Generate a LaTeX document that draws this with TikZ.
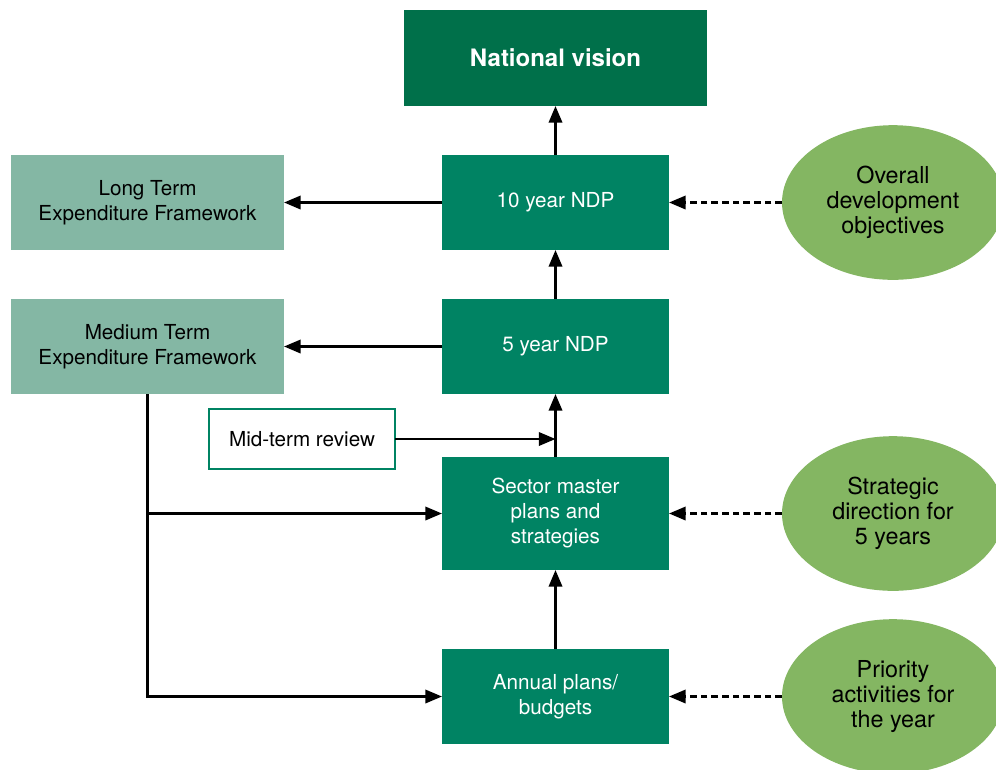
\documentclass[tikz,border=0pt]{standalone}
\usepackage{fontspec}
\setmainfont{TeX Gyre Heros}
\usetikzlibrary{positioning,shapes.geometric,arrows.meta}
\definecolor{visiongreen}{RGB}{0,112,74}
\definecolor{ndpgreen}{RGB}{0,131,99}
\definecolor{sidegreen}{RGB}{132,183,164}
\definecolor{ovalgreen}{RGB}{132,182,98}

\begin{document}
\begin{tikzpicture}[
  x=0.75pt, y=-0.75pt,
  node distance=36.75pt and 118.5pt,
  >={Triangle[length=12.5pt,width=10pt]},
  line width=1.9pt,
  basenode/.style={align=center,inner sep=2pt,outer sep=0pt,font=\fontsize{15.5}{18.75}\selectfont},
  visionnode/.style={basenode,fill=visiongreen,text=white,minimum width=227.25pt,minimum height=72pt,font=\fontsize{18}{21}\selectfont\bfseries},
  ndpnode/.style={basenode,fill=ndpgreen,text=white,minimum width=170.25pt,minimum height=71.25pt},
  sidenode/.style={basenode,fill=sidegreen,text=black,minimum width=204.75pt,minimum height=71.25pt},
  reviewnode/.style={basenode,draw=ndpgreen,line width=1.5pt,fill=white,minimum width=139.5pt,minimum height=45pt},
  ovalnode/.style={ellipse,fill=ovalgreen,text=black,outer sep=0pt,minimum width=166.5pt,minimum height=116pt,align=center,font=\fontsize{17.5}{18.75}\selectfont},
  dotted link/.style={->,dash pattern=on 5pt off 3pt}
]
\clip (0,0) rectangle (996,769);

% main column
\node[visionnode] (vision) at (555.5,58) {National vision};
\node[ndpnode,below=of vision] (ten) {10 year NDP};
\node[ndpnode,below=of ten] (five) {5 year NDP};
\node[ndpnode,minimum height=84.75pt,below=47.25pt of five] (sector) {Sector master\\plans and\\strategies};
\node[ndpnode,below=59.25pt of sector] (annual) {Annual plans/\\budgets};

% frameworks and review
\node[sidenode,left=of ten] (longterm) {Long Term\\Expenditure Framework};
\node[sidenode,left=of five] (medium) {Medium Term\\Expenditure Framework};
\node[reviewnode] (review) at (302,439) {Mid-term review};

% objectives
\node[ovalnode,right=84.75pt of ten] (overall) {Overall\\development\\objectives};
\node[ovalnode,right=84.75pt of sector] (strategic) {Strategic\\direction for\\5 years};
\node[ovalnode,right=84.75pt of annual] (priority) {Priority\\activities for\\the year};

\draw[->] (ten) -- (vision);
\draw[->] (five) -- (ten);
\draw[->] (sector) -- (five);
\draw[->] (annual) -- (sector);
\draw[->] (ten) -- (longterm);
\draw[->] (five) -- (medium);
\draw[->] (review) -- (review -| five.south);
\draw[->] (medium.south) |- (annual);
\draw[->] (medium.south |- sector.west) -- (sector);

\draw[dotted link] (overall) -- (ten);
\draw[dotted link] (strategic) -- (sector);
\draw[dotted link] (priority) -- (annual);

\end{tikzpicture}
\end{document}
